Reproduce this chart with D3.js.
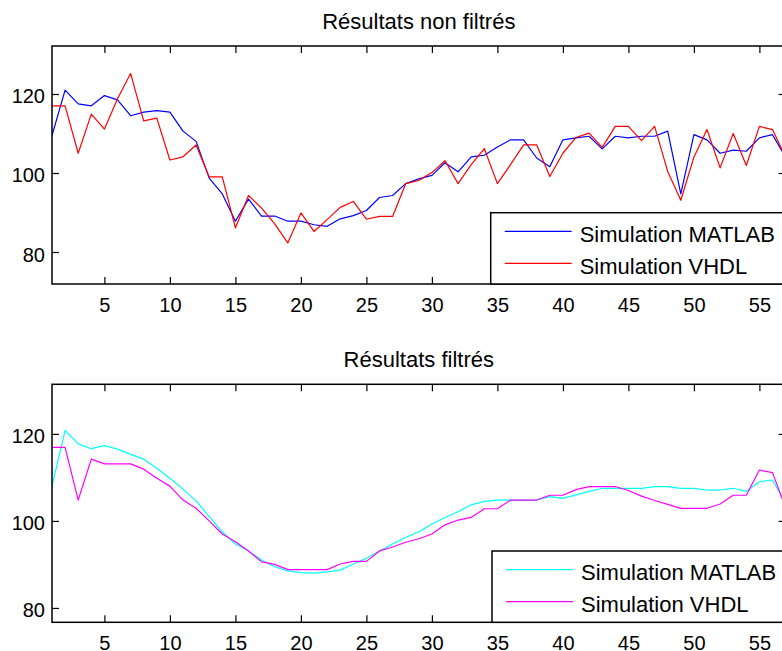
<!DOCTYPE html>
<html>
<head>
<meta charset="utf-8">
<script src="https://cdn.jsdelivr.net/npm/d3@7"></script>
<style>
  html, body { margin: 0; padding: 0; background: #fff; overflow: hidden; }
  svg { display: block; font-family: "Liberation Sans", Arial, Helvetica, sans-serif; }
</style>
</head>
<body>
<svg id="chart" width="782" height="651"></svg>
<script>
// Sample index (1..57)
const samples = d3.range(1, 58);

// Unfiltered results
const matlabRaw = [109.5, 121, 117.5, 117, 119.6, 118.5, 114.5, 115.4, 115.8, 115.4,
  110.6, 108, 98.7, 94.7, 87.8, 93.4, 89.1, 89.1, 87.8, 87.8,
  86.9, 86.5, 88.4, 89.2, 90.5, 93.8, 94.3, 97.3, 98.5, 99.4,
  102.6, 100.3, 104.1, 104.5, 106.6, 108.4, 108.4, 103.8, 101.6, 108.4,
  108.9, 109.3, 106.1, 109.3, 108.9, 109.3, 109.3, 110.6, 94.7, 109.7,
  108.4, 105, 105.8, 105.5, 108.9, 109.7, 104];
const vhdlRaw = [117, 117, 105, 114.9, 111.1, 118.8, 125.2, 113.2, 113.9, 103.3,
  104.1, 107.1, 99, 99, 86.1, 94.3, 91.1, 87.1, 82.3, 89.9,
  85.2, 88.2, 91.3, 92.8, 88.3, 89, 89, 97.3, 98.1, 100.1,
  103.1, 97.3, 102.1, 106.2, 97.3, 102.1, 107.1, 107.1, 99.1, 105,
  109, 110.1, 106.5, 111.8, 111.8, 108.2, 111.8, 100.4, 93.1, 104,
  111, 101.3, 110, 101.9, 111.8, 111, 104];

// Filtered results
const matlabFilt = [108, 120.8, 117.7, 116.6, 117.3, 116.5, 115.3, 114.2, 112.1, 109.8,
  107.3, 104.6, 101, 97.5, 94.7, 93.1, 91, 89.5, 88.5, 88.1,
  88, 88.3, 88.7, 90.1, 91.4, 93.1, 94.7, 96.2, 97.5, 99.3,
  100.8, 102.1, 103.7, 104.5, 104.8, 104.8, 104.8, 104.8, 105.6, 105.2,
  106, 106.8, 107.5, 107.5, 107.5, 107.5, 107.9, 107.9, 107.5, 107.5,
  107.1, 107.1, 107.5, 106.8, 109, 109.4, 104];
const vhdlFilt = [116.9, 116.9, 104.8, 114.2, 113.1, 113.1, 113.1, 111.9, 109.8, 108,
  104.8, 102.9, 100, 97, 95.2, 93.1, 90.6, 90, 88.8, 88.8,
  88.8, 88.8, 90.1, 90.7, 90.7, 93.1, 94, 95.1, 95.9, 97,
  99.1, 100.2, 100.8, 102.8, 102.8, 104.8, 104.8, 104.8, 105.9, 105.9,
  107.2, 107.9, 107.9, 107.9, 107, 105.7, 104.7, 103.8, 102.9, 102.9,
  102.9, 103.9, 105.9, 105.9, 111.7, 111.1, 103];

const seriesNames = ["Simulation MATLAB", "Simulation VHDL"];
const titles = ["Résultats non filtrés", "Résultats filtrés"];
const xTicks = [5, 10, 15, 20, 25, 30, 35, 40, 45, 50, 55];
const yTicks = [80, 100, 120];
const xDomain = [1, 57];

const svg = d3.select("#chart");
const left = 52, right = 785.6;

const panels = [
  { title: titles[0], top: 46, bottom: 284, yDomain: [71.9, 132.15],
    series: [matlabRaw, vhdlRaw], colors: ["#0000ff", "#ff0000"],
    legend: { x: 490.7, y: 212.7 } },
  { title: titles[1], top: 384.3, bottom: 622.3, yDomain: [76.7, 131.4],
    series: [matlabFilt, vhdlFilt], colors: ["#00ffff", "#ff00ff"],
    legend: { x: 492, y: 551 } }
];

const x = d3.scaleLinear().domain(xDomain).range([left, right]);
const tickLen = 7;

panels.forEach(p => {
  const y = d3.scaleLinear().domain(p.yDomain).range([p.bottom, p.top]);
  const g = svg.append("g");

  // clip region for the data lines
  const clipId = "clip" + Math.round(p.top);
  svg.append("clipPath").attr("id", clipId)
    .append("rect").attr("x", left).attr("y", p.top)
    .attr("width", right - left).attr("height", p.bottom - p.top);

  const line = d3.line().x((d, i) => x(samples[i])).y(d => y(d));
  const lines = g.append("g").attr("clip-path", `url(#${clipId})`);
  p.series.forEach((s, k) => {
    lines.append("path").datum(s)
      .attr("d", line).attr("fill", "none")
      .attr("stroke", p.colors[k]).attr("stroke-width", 1.2)
      .attr("stroke-linejoin", "round");
  });

  // axes: ticks point inward on all four sides
  const styleAxis = sel => {
    sel.select(".domain").remove();
    sel.selectAll(".tick line").attr("stroke", "#000").attr("stroke-width", 1.2);
    sel.selectAll(".tick text").attr("fill", "#000").style("font-size", "20px")
      .style("font-family", "'Liberation Sans', Arial, sans-serif");
  };
  g.append("g").attr("transform", `translate(0,${p.bottom})`)
    .call(d3.axisBottom(x).tickValues(xTicks).tickSizeInner(-tickLen).tickSizeOuter(0).tickPadding(13.5))
    .call(styleAxis);
  g.append("g").attr("transform", `translate(0,${p.top})`)
    .call(d3.axisTop(x).tickValues(xTicks).tickSizeInner(-tickLen).tickSizeOuter(0).tickFormat(""))
    .call(styleAxis);
  g.append("g").attr("transform", `translate(${left},0)`)
    .call(d3.axisLeft(y).tickValues(yTicks).tickSizeInner(-tickLen).tickSizeOuter(0).tickPadding(7))
    .call(styleAxis)
    .selectAll(".tick text").attr("dy", "0.45em");
  g.append("g").attr("transform", `translate(${right},0)`)
    .call(d3.axisRight(y).tickValues(yTicks).tickSizeInner(-tickLen).tickSizeOuter(0).tickFormat(""))
    .call(styleAxis);

  // axes box
  g.append("rect").attr("x", left).attr("y", p.top)
    .attr("width", right - left).attr("height", p.bottom - p.top)
    .attr("fill", "none").attr("stroke", "#000").attr("stroke-width", 1.5);

  // title
  g.append("text").attr("x", (left + right) / 2).attr("y", p.top - 17)
    .attr("text-anchor", "middle").style("font-size", "22px").attr("fill", "#000")
    .text(p.title);

  // legend
  const lg = g.append("g");
  lg.append("rect").attr("x", p.legend.x).attr("y", p.legend.y)
    .attr("width", right - p.legend.x).attr("height", p.bottom - p.legend.y)
    .attr("fill", "#fff").attr("stroke", "#000").attr("stroke-width", 1.5);
  seriesNames.forEach((name, k) => {
    const cy = p.legend.y + 18.6 + k * 32;
    lg.append("line").attr("x1", p.legend.x + 14).attr("x2", p.legend.x + 81)
      .attr("y1", cy).attr("y2", cy)
      .attr("stroke", p.colors[k]).attr("stroke-width", 1.2);
    lg.append("text").attr("x", p.legend.x + 89).attr("y", cy + 10.5)
      .style("font-size", "22px").attr("fill", "#000").text(name);
  });
});
</script>
</body>
</html>
